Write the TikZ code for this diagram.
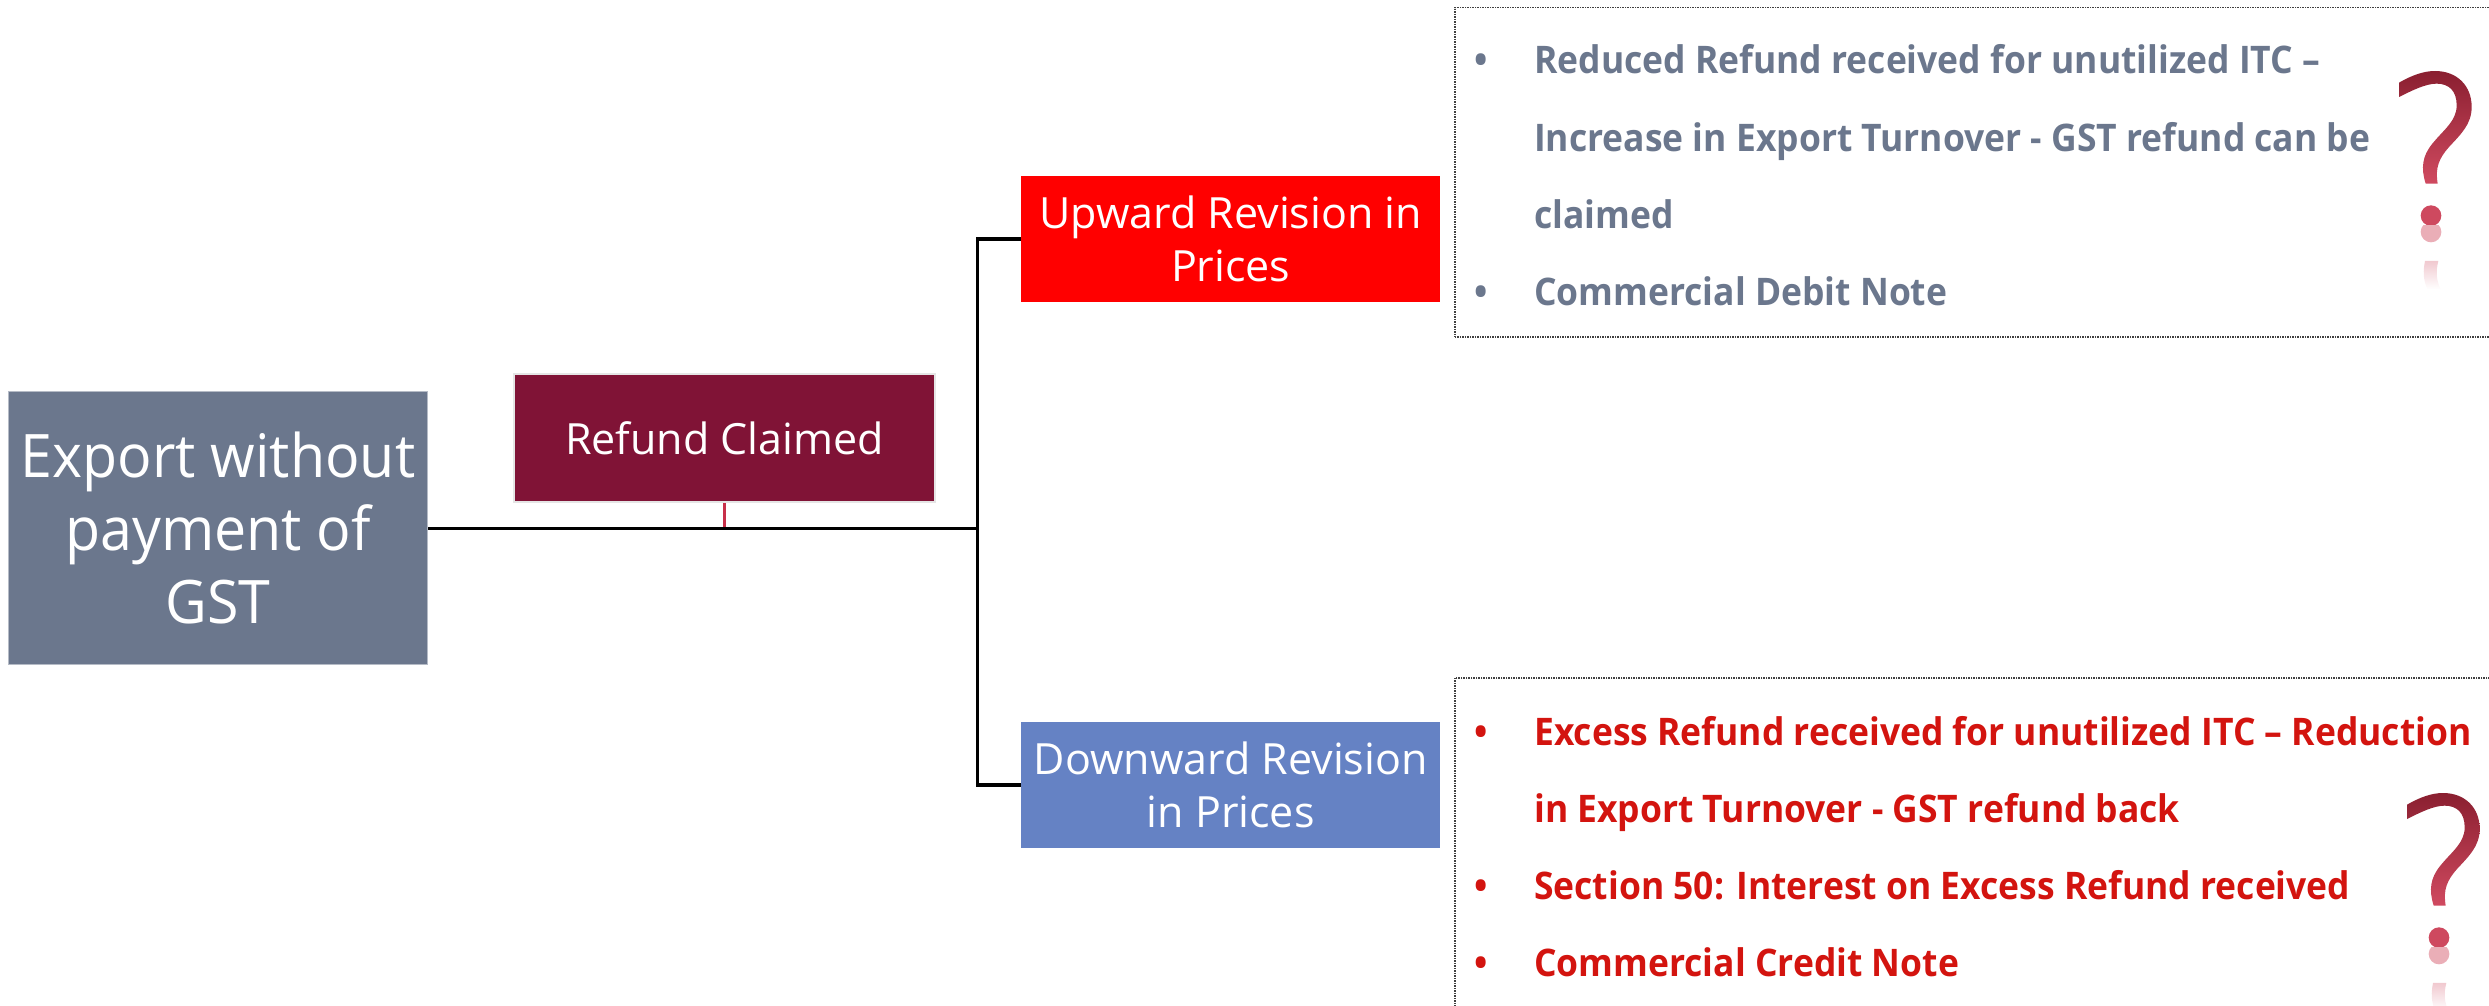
\documentclass[tikz,border=0pt]{standalone}
\usepackage{fontspec}
\setmainfont{Open Sans}
\newfontfamily\listfont[FakeStretch=0.933]{Open Sans}
\newfontfamily\exportfont[FakeStretch=0.955]{Open Sans}
\usetikzlibrary{positioning}
\definecolor{slate}{HTML}{6B778D}
\definecolor{wine}{HTML}{801336}
\definecolor{upred}{HTML}{FF0000}
\definecolor{downblue}{HTML}{6582C4}
\definecolor{listred}{HTML}{D3140F}
\definecolor{stubred}{HTML}{C8304A}
\definecolor{qa}{HTML}{8A1F30}
\definecolor{qb}{HTML}{C42B42}
\definecolor{qc}{HTML}{D04A60}
\tikzset{
 boxbase/.style={anchor=north west,inner sep=0pt,align=center,text=white},
 conn/.style={draw=black,line width=3.5pt},
 dotbox/.style={anchor=north west,draw=black!75,line width=1.5pt,densely dotted,inner sep=0pt},
 listtext/.style={anchor=base west,inner sep=0pt,font=\listfont\fontsize{38}{46}\selectfont\bfseries},
 listbullet/.style={anchor=base,inner sep=0pt,font=\listfont\fontsize{38}{46}\selectfont\bfseries},
}
\newcommand{\qshape}[2]{%
 \begin{scope}[shift={(#1,#2)},x=0.3333pt,y=-0.3333pt]
  \shade[top color=qa,middle color=qb,bottom color=qc,shading angle=0]
   (0,35) .. controls (40,12) and (75,0) .. (108,0)
   .. controls (175,0) and (218,45) .. (218,108)
   .. controls (218,160) and (185,190) .. (150,228)
   .. controls (120,262) and (108,290) .. (116,338)
   -- (80,338) .. controls (65,290) and (70,255) .. (100,218)
   .. controls (135,175) and (173,150) .. (173,103)
   .. controls (173,60) and (150,38) .. (113,38)
   .. controls (80,38) and (40,58) .. (0,78) -- cycle;
  \fill[qc!90!black!10!qc] (96,434) circle (31);
  \begin{scope}
   \clip (50,463) rectangle (150,520);
   \fill[qc!45] (96,483) circle (31);
  \end{scope}
  \shade[top color=qc!30,bottom color=white]
   (78,570) -- (118,570) .. controls (110,600) and (112,630) .. (125,655)
   -- (85,655) .. controls (72,625) and (72,600) .. (78,570) -- cycle;
 \end{scope}}
\begin{document}
\begin{tikzpicture}[x=1pt,y=-1pt]
\clip (0,0) rectangle (2489,1006);
\useasboundingbox (0,0) rectangle (2489,1006);
% boxes
\node[boxbase,fill=slate,draw=slate!50,line width=1pt,minimum width=419pt,minimum height=273pt,font=\exportfont\fontsize{60}{73}\selectfont] (export) at (8,391) {Export without\\payment of\\GST};
\node[boxbase,fill=wine,draw=black!10,line width=2pt,minimum width=421pt,minimum height=128pt,font=\fontsize{43}{53}\selectfont] (refund) at (513,373) {Refund Claimed};
\node[boxbase,fill=upred,minimum width=419pt,minimum height=126pt,font=\fontsize{43}{53}\selectfont] (up) at (1021,176) {Upward Revision in\\Prices};
\node[boxbase,fill=downblue,minimum width=419pt,minimum height=126pt,font=\fontsize{43}{53}\selectfont] (down) at (1021,722) {Downward Revision\\in Prices};
% connectors
\coordinate (j) at (977.5,528.5);
\draw[draw=stubred,line width=2.2pt] (refund.south) -- (refund.south |- j);
\draw[conn] (export.east |- j) -- (j);
\draw[conn] (up.west) -| (j);
\draw[conn] (down.west) -| (j);
% dotted panels
\node[dotbox,minimum width=1100pt,minimum height=329pt] (ubox) at (1454,7) {};
\node[dotbox,minimum width=1100pt,minimum height=400pt] (dbox) at (1454,677) {};
% upper list
\begin{scope}[text=slate]
\node[listbullet] (ub1) at (1481,74) {•};
\node[listtext] (ut1) at (1534,74) {Reduced Refund received for unutilized ITC –};
\node[listtext] (ut2) at (1534,151) {Increase in Export Turnover - GST refund can be};
\node[listtext] (ut3) at (1534,228) {claimed};
\node[listbullet] (ub2) at (1481,305) {•};
\node[listtext] (ut4) at (1534,305) {Commercial Debit Note};
\end{scope}
% lower list
\begin{scope}[text=listred]
\node[listbullet] (db1) at (1481,745) {•};
\node[listtext] (dt1) at (1534,745) {Excess Refund received for unutilized ITC – Reduction};
\node[listtext] (dt2) at (1534,822) {in Export Turnover - GST refund back};
\node[listbullet] (db2) at (1481,899) {•};
\node[listtext] (dt3) at (1534,899) {Section 50: Interest on Excess Refund received};
\node[listbullet] (db3) at (1481,976) {•};
\node[listtext] (dt4) at (1534,976) {Commercial Credit Note};
\end{scope}
\qshape{2399}{71}
\qshape{2407}{793}
\end{tikzpicture}
\end{document}
